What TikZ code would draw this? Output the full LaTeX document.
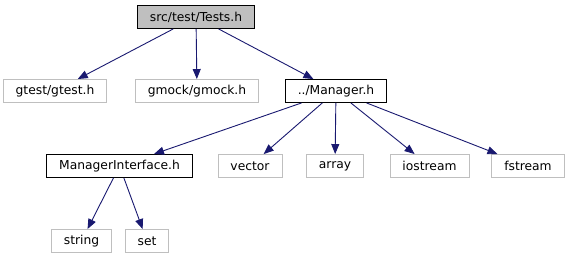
\documentclass[tikz,border=0pt]{standalone}
\usepackage{fontspec}
\setmainfont{DejaVu Sans}
\usetikzlibrary{arrows.meta,positioning}

\definecolor{edgeblue}{RGB}{25,25,112}
\definecolor{boxgray}{RGB}{191,191,191}

\begin{document}
\begin{tikzpicture}[x=1pt,y=-1pt,
    header/.style={
    % The shape:
    rectangle,minimum height=23pt,inner xsep=12.5pt,inner ysep=0pt,
    % The rest
    draw=black,fill=white,line width=0.9pt,
    font=\fontsize{12.3}{14}\selectfont},
    sysheader/.style={header,draw=boxgray},
    mainfile/.style={header,fill=boxgray},
    inc/.style={draw=edgeblue,line width=0.9pt,
    -{Triangle[length=10pt,width=8pt]}}]
    \useasboundingbox (0,0) rectangle (571,261);
    % top level file
    \node (tests) [mainfile] at (196,17) {src/test/Tests.h};
    % what it includes
    \node (gtest) [sysheader] at (55,91) {gtest/gtest.h};
    \node (gmock) [sysheader] at (197,91) {gmock/gmock.h};
    \node (manager) [header] at (336,91) {../Manager.h};
    % what Manager.h includes
    \node (iface) [header] at (119.5,166) {ManagerInterface.h};
    \node (vector) [sysheader] at (250,166) {vector};
    \node (array) [sysheader] at (335,166) {array};
    \node (iostream) [sysheader] at (429.5,166) {iostream};
    \node (fstream) [sysheader] at (528,166) {fstream};
    % what ManagerInterface.h includes
    \node (string) [sysheader] at (81.5,241) {string};
    \node (set) [sysheader] at (147,241) {set};

    \foreach \from/\to in {tests/gtest,tests/gmock,tests/manager,
        manager/iface,manager/vector,manager/array,manager/iostream,
        manager/fstream,iface/string,iface/set}
        \draw[inc] (\from) -- (\to);
\end{tikzpicture}
\end{document}
